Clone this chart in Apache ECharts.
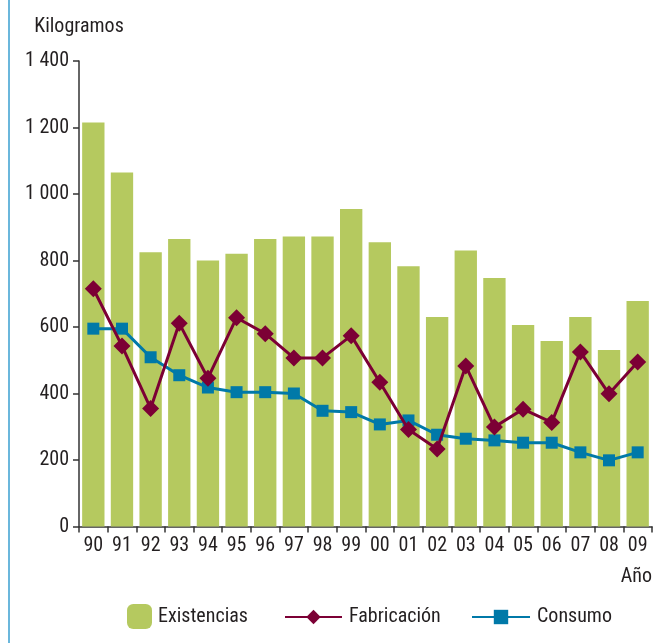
<!DOCTYPE html>
<html>
<head>
<meta charset="utf-8">
<script src="https://cdn.jsdelivr.net/npm/echarts@6/dist/echarts.min.js"></script>
<style>
  html, body { margin: 0; padding: 0; background: #fff; }
  #chart { width: 659px; height: 643px; }
</style>
</head>
<body>
<div id="chart"></div>
<script>
// Years (two-digit labels)
const years = ['90','91','92','93','94','95','96','97','98','99','00','01','02','03','04','05','06','07','08','09'];
// Stock, production and consumption, in kilograms
const existencias = [1215, 1065, 825, 865, 800, 820, 865, 872, 872, 955, 855, 783, 630, 830, 747, 606, 558, 630, 531, 678];
const fabricacion = [715, 543, 355, 611, 446, 628, 580, 507, 507, 574, 434, 292, 233, 483, 299, 353, 313, 525, 399, 495];
const consumo = [595, 595, 509, 455, 418, 404, 404, 400, 348, 344, 307, 319, 276, 264, 259, 252, 252, 223, 199, 223];
const yTicks = [0, 200, 400, 600, 800, 1000, 1200, 1400];

const FONT = '"Roboto Condensed", "Liberation Sans", sans-serif';
const TEXT = '#231f20';
const GREEN = '#b5c95f';
const MAROON = '#7c0035';
const BLUE = '#0079a8';
const AXIS = '#333333';

const fmt = v => v >= 1000 ? Math.floor(v / 1000) + ' ' + String(v % 1000).padStart(3, '0') : String(v);

const legendText = { fontFamily: FONT, fontSize: 20, color: TEXT, padding: [0, 0, 0, 2] };

const chart = echarts.init(document.getElementById('chart'), null, { renderer: 'canvas' });
chart.setOption({
  animation: false,
  backgroundColor: '#ffffff',
  textStyle: { fontFamily: FONT, color: TEXT },
  grid: { left: 79, right: 7, top: 61, bottom: 116.5 },
  graphic: [{
    type: 'line',
    shape: { x1: 9, y1: 0, x2: 9, y2: 643 },
    style: { stroke: '#3a9fd0', lineWidth: 1.5 }
  }],
  legend: [
    {
      data: ['Existencias'], left: 127, top: 604, padding: 0,
      itemWidth: 25, itemHeight: 25, itemGap: 0,
      textStyle: { fontFamily: FONT, fontSize: 20, color: TEXT, padding: [0, 0, 0, 1] }
    },
    {
      data: ['Fabricación'], left: 284, top: 607, padding: 0,
      itemWidth: 57, itemHeight: 18, itemGap: 0,
      textStyle: legendText
    },
    {
      data: ['Consumo'], left: 471, top: 607, padding: 0,
      itemWidth: 58, itemHeight: 18, itemGap: 0,
      textStyle: legendText
    }
  ],
  xAxis: {
    type: 'category',
    data: years,
    boundaryGap: true,
    name: 'Año',
    nameLocation: 'end',
    nameGap: 0,
    nameTextStyle: {
      fontFamily: FONT, fontSize: 20, color: TEXT,
      align: 'right', verticalAlign: 'top', padding: [40, 0, 0, 0]
    },
    axisLine: { lineStyle: { color: AXIS, width: 1.5 } },
    axisTick: { show: true, length: 6, interval: 0, lineStyle: { color: AXIS, width: 1.5 } },
    axisLabel: { fontFamily: FONT, fontSize: 20, color: TEXT, margin: 9, interval: 0 },
    splitLine: { show: false }
  },
  yAxis: {
    type: 'value',
    min: yTicks[0],
    max: yTicks[yTicks.length - 1],
    interval: 200,
    name: 'Kilogramos',
    nameLocation: 'end',
    nameGap: 34,
    nameTextStyle: {
      fontFamily: FONT, fontSize: 20, color: TEXT,
      align: 'center', verticalAlign: 'middle'
    },
    axisLine: { show: true, lineStyle: { color: AXIS, width: 1.5 } },
    axisTick: { show: true, length: 6, lineStyle: { color: AXIS, width: 1.5 } },
    axisLabel: { fontFamily: FONT, fontSize: 20, color: TEXT, margin: 10, formatter: fmt },
    splitLine: { show: false }
  },
  series: [
    {
      name: 'Existencias',
      type: 'bar',
      data: existencias,
      barCategoryGap: '22%',
      itemStyle: { color: GREEN },
      z: 1
    },
    {
      name: 'Fabricación',
      type: 'line',
      data: fabricacion,
      symbol: 'diamond',
      symbolSize: 17,
      lineStyle: { color: MAROON, width: 3 },
      itemStyle: { color: MAROON },
      z: 3
    },
    {
      name: 'Consumo',
      type: 'line',
      data: consumo,
      symbol: 'rect',
      symbolSize: 12,
      lineStyle: { color: BLUE, width: 3 },
      itemStyle: { color: BLUE },
      z: 2
    }
  ]
});
</script>
</body>
</html>
